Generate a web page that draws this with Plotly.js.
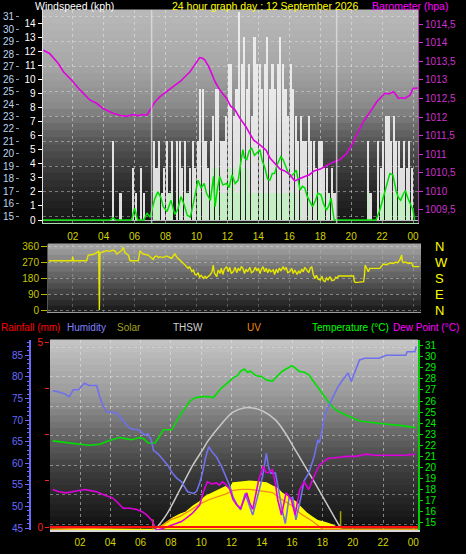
<!DOCTYPE html>
<html><head><meta charset="utf-8">
<script src="https://cdn.plot.ly/plotly-3.0.1.min.js"></script>
<style>html,body{margin:0;padding:0;background:#000;}#chart{width:466px;height:554px;}</style>
</head><body><div id="chart"></div>
<script>
// ---------- DATA ----------
const hourTickVals = [2,4,6,8,10,12,14,16,18,20,22,24];
const hourTickText = ['02','04','06','08','10','12','14','16','18','20','22','00'];

// Windspeed panel: 10-minute slots (kph)
const gustKph = [
 0,0,0,0,0,0, 0,0,0,0,0,0, 0,0,0,0,0,0, 0,0,0,0,0,0,
 0,0,0,5.6,0,0,
 1.9,0,0,0,0,3.7,
 1.9,0,3.7,1.9,0,0,
 0,5.6,3.7,5.6,1.9,3.7,
 5.6,1.9,5.6,0,5.6,5.6,
 3.7,5.6,1.9,3.7,5.6,3.7,
 5.6,9.3,9.3,5.6,3.7,5.6,
 7.4,9.3,9.3,5.6,5.6,7.4,
 11.1,11.1,7.4,9.3,14.8,11.1,
 13.0,9.3,11.1,7.4,13.0,11.1,
 11.1,9.3,11.1,13.0,9.3,11.1,
 9.3,11.1,13.0,11.1,9.3,7.4,
 11.1,9.3,7.4,5.6,7.4,5.6,
 5.6,7.4,5.6,5.6,3.7,5.6,
 5.6,3.7,3.7,1.9,3.7,1.9,
 0,0,0,0,0,0,
 0,0,0,0,0,0,
 5.6,1.9,0,0,5.6,3.7,
 5.6,7.4,7.4,5.6,7.4,5.6,
 5.6,3.7,5.6,3.7,5.6,3.7
];
const speedKph = [
 0,0,0,0,0,0, 0,0,0,0,0,0, 0,0,0,0,0,0, 0,0,0,0,0,0,
 0,0,0,0,0,0, 0,0,0,0,0,0, 0,0,0,0,0,0,
 0,1.9,1.9,1.9,0,0,
 0,1.9,1.9,0,0,1.9,
 0,0,1.9,0,0,0,
 1.9,1.9,0,1.9,0,1.9,
 3.7,3.7,3.7,1.9,1.9,1.9,
 3.7,3.7,3.7,1.9,1.9,3.7,
 3.7,3.7,1.9,1.9,1.9,1.9,
 1.9,1.9,1.9,1.9,1.9,1.9,
 1.9,1.9,1.9,1.9,1.9,1.9,
 1.9,1.9,1.9,0,1.9,0,
 0,1.9,0,0,1.9,1.9,
 1.9,1.9,0,1.9,0,0,
 0,0,0,0,0,0,
 0,0,0,0,0,0,
 1.9,0,0,0,0,1.9,
 1.9,1.9,1.9,1.9,1.9,1.9,
 1.9,1.9,1.9,1.9,1.9,0
];
const avgWindHours = [0,4.4,4.6,4.8,5.8,6.0,6.2,6.6,6.8,7.0,7.3,7.5,7.7,7.85,8.1,8.35,8.6,8.8,9.0,9.2,9.4,9.6,9.8,10.1,10.3,10.5,10.65,10.9,11.1,11.2,11.35,11.5,11.7,11.95,12.1,12.3,12.5,12.7,12.85,13.0,13.1,13.25,13.4,13.57,13.75,13.9,14.1,14.25,14.4,14.6,14.75,14.9,15.05,15.2,15.45,15.6,15.8,15.95,16.1,16.3,16.45,16.6,16.7,16.85,17.0,17.15,17.3,17.5,17.7,17.85,18.05,18.2,18.4,18.55,18.7,18.8,18.9,21.6,21.85,22.0,22.15,22.35,22.5,22.7,22.9,23.05,23.2,23.35,23.5,23.65,23.8,24.0,24.1];
const avgWindKph = [0,0,0.15,0,0,0.85,0,0,0.5,0.2,1.5,2.0,1.6,0.95,0.6,1.4,0.4,0.8,1.66,1.1,0.35,0.2,1.2,2.84,2.27,2.6,1.9,1.4,3.1,0.95,2.2,3.1,2.5,2.6,2.3,3.2,2.6,2.84,4.0,5.0,4.4,4.3,4.9,5.1,4.6,4.75,5.0,4.2,3.8,2.9,2.84,3.3,3.3,3.9,4.5,4.3,3.7,3.3,3.1,3.3,3.55,2.8,2.13,2.4,2.3,1.7,1.4,0.95,1.4,1.9,1.8,1.2,0.7,1.0,1.56,0.8,0,0,0.7,1.3,1.9,2.8,3.3,3.2,2.1,1.6,1.4,1.8,2.1,1.6,1.2,0.7,0];
const baroHours = [0.1,0.5,1.07,1.4,1.93,2.47,3.1,3.54,3.96,4.6,5.05,5.5,5.9,6.2,6.55,6.8,7.0,7.3,7.64,8.0,8.3,8.6,8.93,9.15,9.58,9.8,10.0,10.2,10.4,10.55,10.8,11.0,11.2,11.5,11.95,12.2,12.5,12.8,13.2,13.45,13.7,14.1,14.5,14.75,14.96,15.2,15.4,15.7,16.04,16.35,16.5,16.7,17.0,17.3,17.6,18.0,18.3,18.8,19.26,19.5,19.7,19.9,20.1,20.35,20.55,20.78,21.0,21.2,21.45,21.65,21.9,22.18,22.45,22.72,22.9,23.05,23.3,23.48,23.65,23.8,24.0,24.3];
const baroHpa = [1013.80,1013.71,1013.44,1013.22,1012.99,1012.73,1012.46,1012.37,1012.23,1012.10,1012.05,1012.02,1012.07,1012.04,1012.07,1012.05,1012.19,1012.40,1012.55,1012.67,1012.77,1012.85,1012.95,1013.04,1013.22,1013.35,1013.49,1013.60,1013.58,1013.53,1013.35,1013.17,1012.95,1012.73,1012.50,1012.30,1012.19,1011.97,1011.74,1011.55,1011.38,1011.25,1011.11,1010.90,1010.80,1010.70,1010.60,1010.55,1010.45,1010.28,1010.32,1010.35,1010.40,1010.45,1010.55,1010.60,1010.67,1010.78,1010.85,1010.93,1011.02,1011.16,1011.30,1011.52,1011.70,1011.87,1012.00,1012.14,1012.28,1012.41,1012.52,1012.64,1012.62,1012.68,1012.60,1012.50,1012.52,1012.50,1012.55,1012.59,1012.77,1012.78];
const baroTickVals = [1009.5,1010,1010.5,1011,1011.5,1012,1012.5,1013,1013.5,1014,1014.5];
const baroTickText = ['1009,5','1010','1010,5','1011','1011,5','1012','1012,5','1013','1013,5','1014','1014,5'];
const sunMarkHours = [7.1, 19.06];

// Wind direction panel
const dirHours = [0.45,1.95,2.0,2.05,2.9,3.0,3.3,3.55,3.68,3.72,3.76,4.0,4.2,4.4,4.6,4.75,4.84,5.0,5.15,5.27,5.32,5.38,5.6,5.7,6.24,6.35,6.45,6.56,6.7,6.88,7.0,7.2,7.3,7.43,7.55,7.64,7.8,8.07,8.2,8.4,8.5,8.6,8.75,8.93,9.1,9.26,9.35,9.46,9.55,9.7,9.8,9.9,10.0,10.1,10.2,10.3,10.44,10.55,10.65,10.76,10.9,11.0,11.08,11.15,11.3,11.4,11.52,11.6,11.7,11.8,11.95,12.05,12.15,12.25,12.38,12.5,12.6,12.7,12.8,12.9,13.0,13.1,13.2,13.3,13.45,13.55,13.67,13.8,13.9,14.0,14.1,14.2,14.3,14.4,14.5,14.6,14.7,14.8,14.96,15.05,15.15,15.25,15.35,15.45,15.6,15.7,15.8,15.9,16.04,16.15,16.25,16.35,16.5,16.6,16.7,16.8,16.9,17.0,17.1,17.25,17.35,17.45,17.55,17.66,17.75,17.85,18.0,18.1,18.2,18.3,18.4,18.5,18.63,18.75,18.9,19.0,19.1,19.17,20.15,20.2,20.3,20.8,20.85,20.9,21.0,21.1,21.2,21.85,22.0,22.07,22.3,22.5,22.7,22.9,23.0,23.14,23.26,23.3,23.37,23.5,23.7,23.9,24.0,24.4];
const dirDeg = [277,277,300,277,277,309,312,322,334,0,322,328,334,330,337,330,315,325,335,352,330,322,309,277,277,334,322,315,312,309,300,285,300,304,295,300,295,304,298,291,305,315,295,281,270,253,245,234,245,216,225,200,197,210,185,195,178,190,180,187,200,215,253,210,187,225,206,235,200,230,244,215,240,205,216,240,210,235,220,245,234,205,230,215,240,210,216,240,220,235,205,230,244,215,235,210,230,215,225,200,230,210,235,220,244,225,240,210,216,235,205,225,200,220,206,230,215,240,225,210,235,244,200,178,195,175,169,190,165,159,180,170,187,165,169,185,180,191,191,160,154,159,190,253,235,216,234,234,250,259,255,265,262,270,265,281,309,275,266,270,262,266,244,244];
const dirTickVals = [0,90,180,270,360];
const compassText = ['N','W','S','E','N'];
const compassVals = [360,270,180,90,0];

// Lower panel
const humHours = [0.2,0.6,1.0,1.3,1.55,1.9,2.3,2.6,3.1,3.3,3.5,3.75,4.1,4.4,4.8,5.28,5.6,5.9,6.25,6.5,6.7,6.85,7.2,7.5,7.8,8.1,8.4,8.7,9.1,9.5,9.7,9.9,10.1,10.3,10.5,10.75,11.0,11.35,11.6,11.9,12.1,12.35,12.6,12.9,13.15,13.4,13.7,14.05,14.3,14.45,14.6,14.9,15.1,15.3,15.55,15.8,16.05,16.25,16.5,16.8,17.1,17.45,17.7,17.8,18.0,18.2,18.45,18.7,19.0,19.35,19.7,19.9,20.15,20.45,20.8,21.3,21.75,22.2,22.8,23.5,23.6,24.1,24.2];
const humPct = [76.8,76.5,76.0,75.4,77.0,77.0,78.5,78.0,78.0,75.4,73.5,71.9,71.8,71.6,70.0,68.1,67.8,67.7,66.5,66.8,65.4,63.0,62.0,60.7,59.5,57.7,56.5,55.7,53.4,53.0,53.5,55.4,58.0,61.5,63.8,62.5,61.5,59.2,57.0,54.6,52.2,50.5,49.2,53.0,50.5,48.0,52.0,56.9,62.3,59.0,57.7,57.7,54.0,49.9,46.0,52.0,52.0,46.9,50.8,56.0,57.7,61.5,65.4,64.7,68.0,71.6,73.5,75.4,77.5,79.3,80.9,78.9,81.2,83.9,84.3,84.3,84.3,85.0,85.0,85.0,85.8,85.8,87.0];
const tempHours = [0.2,0.7,1.3,2.0,2.6,3.3,3.9,4.6,5.0,5.4,5.95,6.2,6.5,6.95,7.2,7.5,8.05,8.3,8.7,9.0,9.25,9.6,10.1,10.5,10.8,11.1,11.35,11.7,12.1,12.4,12.6,12.85,13.05,13.25,13.6,14.0,14.3,14.7,15.0,15.35,15.6,16.0,16.2,16.45,16.8,17.1,17.3,17.5,17.8,18.1,18.35,18.6,18.9,19.3,19.8,20.1,20.45,21.0,21.5,22.3,23.1,23.6,24.15];
const tempC = [22.4,22.3,22.2,22.1,22.0,22.1,22.4,22.7,22.6,22.5,22.7,22.6,22.2,22.2,22.7,23.4,23.4,24.0,24.9,25.5,26.0,26.3,26.4,26.4,26.3,26.8,27.2,27.6,28.1,28.3,28.7,28.9,28.6,28.7,28.3,28.2,27.9,27.8,28.2,28.7,28.9,29.2,29.0,28.7,28.6,28.4,28.0,27.6,27.1,26.5,26.0,25.6,25.2,24.9,24.6,24.4,24.2,24.1,24.0,23.9,23.8,23.7,23.6];
const dewHours = [0.2,0.6,1.1,1.6,2.0,2.3,2.7,3.1,3.6,4.2,4.5,4.85,5.3,5.75,6.1,6.4,6.75,6.9,7.05,7.5,7.9,8.3,8.7,9.1,9.45,9.9,10.15,10.4,10.7,11.0,11.2,11.4,11.6,11.9,12.1,12.35,12.6,13.0,13.2,13.4,13.6,13.8,14.1,14.25,14.4,14.7,14.9,15.05,15.3,15.6,15.95,16.2,16.5,16.8,17.1,17.45,17.8,18.35,19.0,19.55,20.2,20.9,21.4,22.0,22.7,23.5,24.1];
const dewC = [18.0,17.8,17.7,17.8,17.9,18.0,17.9,17.8,17.5,17.2,16.8,16.3,16.3,16.2,16.0,15.7,15.2,14.8,14.3,14.5,14.7,14.9,15.1,15.5,15.9,16.6,17.8,18.7,18.5,18.6,18.4,18.7,18.5,18.0,17.1,16.6,16.3,17.7,16.8,16.2,17.5,18.9,20.1,19.6,19.5,19.8,18.5,17.1,15.7,17.7,17.1,15.7,18.0,18.7,18.0,19.2,20.2,20.8,20.9,21.0,21.0,21.2,21.1,21.1,21.1,21.1,21.2];
const thswHours = [6.95,7.7,8.6,9.45,10.1,10.45,11.2,12.1,12.9,13.5,14.05,14.9,15.6,16.2,17.5,19.2];
const thswC = [14.34,15.7,18.0,20.2,21.6,22.4,23.7,25.0,25.4,25.35,25.1,24.3,23.0,21.6,18.6,14.5];
const solarHours = [0,6.95,7.2,7.7,8.1,8.6,9.0,9.45,9.9,10.3,10.8,11.2,11.6,11.9,12.1,12.6,13.2,13.6,14.0,14.3,14.7,15.0,15.3,15.6,16.0,16.3,16.6,17.0,17.3,17.7,18.15,18.6,19.2,19.3,24.3];
const solarWm2 = [0,0,10,44,70,95,110,147,175,210,235,253,270,255,295,300,305,303,299,295,274,262,232,215,190,170,137,100,80,55,44,30,5,0,0];
const uvHours = [0,7.3,8.0,8.6,9.3,9.9,10.5,11.0,11.6,12.1,12.7,13.2,13.85,14.3,14.7,15.3,16.0,16.6,17.3,17.8,18.0,24.3];
const uvIndex = [0,0.1,0.5,0.67,1.0,1.32,1.55,1.67,1.85,2.05,2.1,2.1,2.01,1.98,1.93,1.58,1.23,0.79,0.44,0.14,0,0];
const rainHours = [0,24.3];
const rainMm = [0,0];
const sunEventHours = [6.82,19.2];
const sunEventLevel = [63,116];
const humTickVals = [45,50,55,60,65,70,75,80,85];
const rainTickVals = [0,1.25,2.5,3.75,5];
const rainTickText = ['0','','','','5'];

// ---------- LAYOUT HELPERS ----------
const W = 466, H = 554;
const fx = p => p / W;
const fy = p => 1 - p / H;
const FONT = 'Liberation Sans, Arial, sans-serif';
const GRID = 'rgba(235,235,235,0.5)';

const shapes = [];
function interp(stops, t) {
  for (let i = 1; i < stops.length; i++) {
    if (t <= stops[i][0]) {
      const a = stops[i-1], b = stops[i];
      const u = (t - a[0]) / (b[0] - a[0]);
      return Math.round(a[1] + (b[1] - a[1]) * u);
    }
  }
  return stops[stops.length-1][1];
}
function gradient(x0, x1, y0, y1, stops, n) {
  const h = (y1 - y0) / n;
  for (let i = 0; i < n; i++) {
    const v = interp(stops, (i + 0.5) / n);
    shapes.push({type:'rect', xref:'paper', yref:'paper', layer:'below',
      x0: fx(x0), x1: fx(x1), y0: fy(y0 + h*i - 0.5), y1: fy(y0 + h*(i+1) + 0.5),
      fillcolor: `rgb(${v},${v},${v})`, line:{width:0}});
  }
}
gradient(43, 418, 10, 223, [[0,185],[0.25,168],[0.45,138],[0.6,92],[0.78,52],[1,22]], 30);
gradient(48, 421, 244, 312, [[0,168],[0.5,95],[1,24]], 12);
gradient(50, 418, 340, 530, [[0,198],[0.3,152],[0.5,102],[0.7,60],[1,14]], 30);

sunMarkHours.forEach(h => shapes.push({type:'line', xref:'x', yref:'y domain', x0:h, x1:h, y0:0, y1:1,
  line:{color:'rgba(225,225,225,0.75)', width:1.5}, layer:'above'}));

const annotations = [];
function label(text, x, y, color, size) {
  annotations.push({text, x: fx(x), y: fy(y), xref:'paper', yref:'paper', xanchor:'left', yanchor:'middle',
    showarrow:false, borderpad:0, font:{family:FONT, size:size||11, color}});
}
label('Windspeed (kph)', 34, 5.5, '#ffffff', 10.5);
label('24 hour graph day : 12 September 2026', 171, 5.5, '#ffff00', 10.5);
label('Barometer (hpa)', 371, 5.5, '#ff00ff', 10.5);
label('Rainfall (mm)', 0, 327, '#ff0000', 10);
label('Humidity', 66, 327, '#8080ff', 10);
label('Solar', 116, 327, '#a0a020', 10);
label('THSW', 172, 327, '#d0d0d0', 10);
label('UV', 246, 327, '#f08a10', 10);
label('Temperature (°C)', 311, 327, '#00ff00', 10);
label('Dew Point (°C)', 392, 327, '#ff00ff', 10);

// ---------- TRACES ----------
const traces = [
  {type:'bar', x0:1/12, dx:1/6, y:gustKph, xaxis:'x', yaxis:'y', width:0.14,
   marker:{color:'rgba(240,240,240,0.92)', line:{width:0}}, hoverinfo:'skip'},
  {type:'bar', x0:1/12, dx:1/6, y:speedKph, xaxis:'x', yaxis:'y', width:0.14,
   marker:{color:'rgba(195,238,195,0.95)', line:{width:0}}, hoverinfo:'skip'},
  {type:'scatter', mode:'lines', x:avgWindHours, y:avgWindKph, xaxis:'x', yaxis:'y',
   line:{color:'#00dd00', width:1.5}},
  {type:'scatter', mode:'lines', x:[], y:[], xaxis:'x', yaxis:'y2'},
  {type:'scatter', mode:'lines', x:[], y:[], xaxis:'x', yaxis:'y4'},
  {type:'scatter', mode:'lines', x:baroHours, y:baroHpa, xaxis:'x', yaxis:'y3',
   line:{color:'#e000e0', width:1.6}},

  {type:'scatter', mode:'lines', x:dirHours, y:dirDeg, xaxis:'x2', yaxis:'y5',
   line:{color:'#e6e600', width:1.4}},
  {type:'scatter', mode:'lines', x:[], y:[], xaxis:'x2', yaxis:'y6'},

  {type:'scatter', mode:'lines', x:solarHours, y:solarWm2, xaxis:'x3', yaxis:'y10',
   fill:'tozeroy', fillcolor:'#ffff00', line:{color:'#ffff00', width:1.5}},
  {type:'scatter', mode:'lines',
   x:[sunEventHours[0], sunEventHours[0], null, sunEventHours[1], sunEventHours[1]],
   y:[0, sunEventLevel[0], null, 0, sunEventLevel[1]], xaxis:'x3', yaxis:'y10',
   line:{color:'#a0a000', width:1.5}},
  {type:'scatter', mode:'lines', x:uvHours, y:uvIndex, xaxis:'x3', yaxis:'y11',
   line:{color:'#f08a20', width:1.3}},
  {type:'scatter', mode:'lines', x:thswHours, y:thswC, xaxis:'x3', yaxis:'y12',
   line:{color:'#c8c8c8', width:1.5, shape:'spline'}},
  {type:'scatter', mode:'lines', x:tempHours, y:tempC, xaxis:'x3', yaxis:'y12',
   line:{color:'#00e000', width:1.6}},
  {type:'scatter', mode:'lines', x:humHours, y:humPct, xaxis:'x3', yaxis:'y13',
   line:{color:'#7070ee', width:1.6}},
  {type:'scatter', mode:'lines', x:dewHours, y:dewC, xaxis:'x3', yaxis:'y14',
   line:{color:'#dd00dd', width:1.6}},
  {type:'scatter', mode:'lines', x:rainHours, y:rainMm, xaxis:'x3', yaxis:'y15',
   line:{color:'#ff1010', width:2}},
  {type:'scatter', mode:'lines', x:[], y:[], xaxis:'x3', yaxis:'y16'}
];
traces.forEach(t => { t.showlegend = false; t.hoverinfo = 'skip'; });

const tf = (c, s) => ({family:FONT, color:c, size:s||10});
const layout = {
  width: W, height: H, margin:{l:0, r:0, t:0, b:0},
  paper_bgcolor:'#000000', plot_bgcolor:'rgba(0,0,0,0)',
  showlegend:false, barmode:'overlay', bargap:0,
  shapes, annotations,
  // ---- panel 1 ----
  xaxis:{domain:[fx(43), fx(418)], range:[0.078, 24.32], anchor:'y',
    tickvals:hourTickVals, ticktext:hourTickText, ticks:'', tickfont:tf('#d4d400'),
    ticklabelstandoff:4, showgrid:true, gridcolor:GRID, griddash:'dot', gridwidth:1,
    showline:true, linecolor:'#a8e0a8', zeroline:false},
  yaxis:{domain:[fy(223), fy(10)], range:[-0.21, 14.93], anchor:'x', tick0:0, dtick:1,
    ticks:'outside', ticklen:4, tickcolor:'#ffffff', tickfont:tf('#ffffff'),
    showgrid:false, zeroline:true, zerolinecolor:'#bdbdbd', zerolinewidth:1,
    showline:true, linecolor:'#e0e0e0', linewidth:1.5},
  yaxis2:{overlaying:'y', anchor:'free', position:fx(19), side:'left', range:[14.44, 31.56],
    tick0:15, dtick:1, ticks:'outside', ticklen:3, tickcolor:'#8a9aaa', tickfont:tf('#bcd4f0'),
    showgrid:false, zeroline:false, showline:false},
  yaxis3:{overlaying:'y', anchor:'x', side:'right', range:[1009.15, 1014.88],
    tickvals:baroTickVals, ticktext:baroTickText, ticks:'outside', ticklen:4, tickcolor:'#cc33cc',
    tickfont:tf('#cc33cc'), showgrid:false, zeroline:false, showline:true, linecolor:'#b040b0'},
  yaxis4:{overlaying:'y', range:[14.44, 31.56], tick0:15, dtick:2, showticklabels:false, ticks:'',
    showgrid:true, gridcolor:'rgba(235,235,235,0.42)', griddash:'dot', zeroline:false, showline:false},
  // ---- panel 2 ----
  xaxis2:{domain:[fx(48), fx(421)], range:[0.40, 24.51], anchor:'y5', showticklabels:false, ticks:'',
    tick0:0, dtick:2, showgrid:true, gridcolor:'rgba(220,220,220,0.28)', griddash:'dot',
    showline:true, linecolor:'#9a9a9a', zeroline:false},
  yaxis5:{domain:[fy(312), fy(244)], range:[-11.25, 371.25], anchor:'x2', tickvals:dirTickVals,
    ticks:'outside', ticklen:6, tickcolor:'#b8b800', tickfont:tf('#c8c800'),
    showgrid:true, gridcolor:'rgba(220,220,220,0.45)', griddash:'dot', zeroline:false,
    showline:true, linecolor:'#555555'},
  yaxis6:{overlaying:'y5', anchor:'x2', side:'right', range:[-11.25, 371.25],
    tickvals:compassVals, ticktext:compassText, ticks:'', tickfont:tf('#ffff00', 13),
    ticklabelstandoff:13, showgrid:false, zeroline:false, showline:false},
  // ---- panel 3 ----
  xaxis3:{domain:[fx(50), fx(418)], range:[0.02, 24.31], anchor:'y10',
    tickvals:hourTickVals, ticktext:hourTickText, ticks:'', tickfont:tf('#d4d400'),
    ticklabelstandoff:2, showgrid:true, gridcolor:GRID, griddash:'dot',
    showline:true, linecolor:'#d8d8d8', linewidth:1.5, zeroline:false},
  yaxis10:{domain:[fy(530), fy(340)], range:[-3, 1200], anchor:'x3', visible:false},
  yaxis11:{overlaying:'y10', range:[-0.05, 10], visible:false},
  yaxis12:{overlaying:'y10', anchor:'x3', side:'right', range:[14.34, 31.52], tick0:15, dtick:1,
    ticks:'outside', ticklen:3, tickcolor:'#00dd00', tickfont:tf('#00ee00'),
    showgrid:false, zeroline:false, showline:true, linecolor:'#00cc00', linewidth:2},
  yaxis13:{overlaying:'y10', anchor:'free', position:fx(30), side:'left', range:[44.54, 88.52],
    tickvals:humTickVals, ticks:'outside', ticklen:4, tickcolor:'#6a6aff', tickfont:tf('#6a6aff'),
    minor:{dtick:1, tick0:45, ticks:'outside', ticklen:2, tickcolor:'#6a6aff', showgrid:false},
    showgrid:false, zeroline:false, showline:true, linecolor:'#6a6aff', linewidth:2},
  yaxis14:{overlaying:'y10', range:[14.34, 31.52], visible:false},
  yaxis15:{overlaying:'y10', anchor:'free', position:fx(49), side:'left', range:[-0.081, 5.054],
    tickvals:rainTickVals, ticktext:rainTickText, ticks:'outside', ticklen:4, tickcolor:'#ff2020',
    tickfont:tf('#ff2020'), showgrid:false, zeroline:false, showline:false},
  yaxis16:{overlaying:'y10', range:[-0.2, 6.24], tick0:0, dtick:1, showticklabels:false, ticks:'',
    showgrid:true, gridcolor:'rgba(235,235,235,0.42)', griddash:'dot', zeroline:false, showline:false}
};

Plotly.newPlot('chart', traces, layout, {staticPlot:true, displayModeBar:false});
</script></body></html>
